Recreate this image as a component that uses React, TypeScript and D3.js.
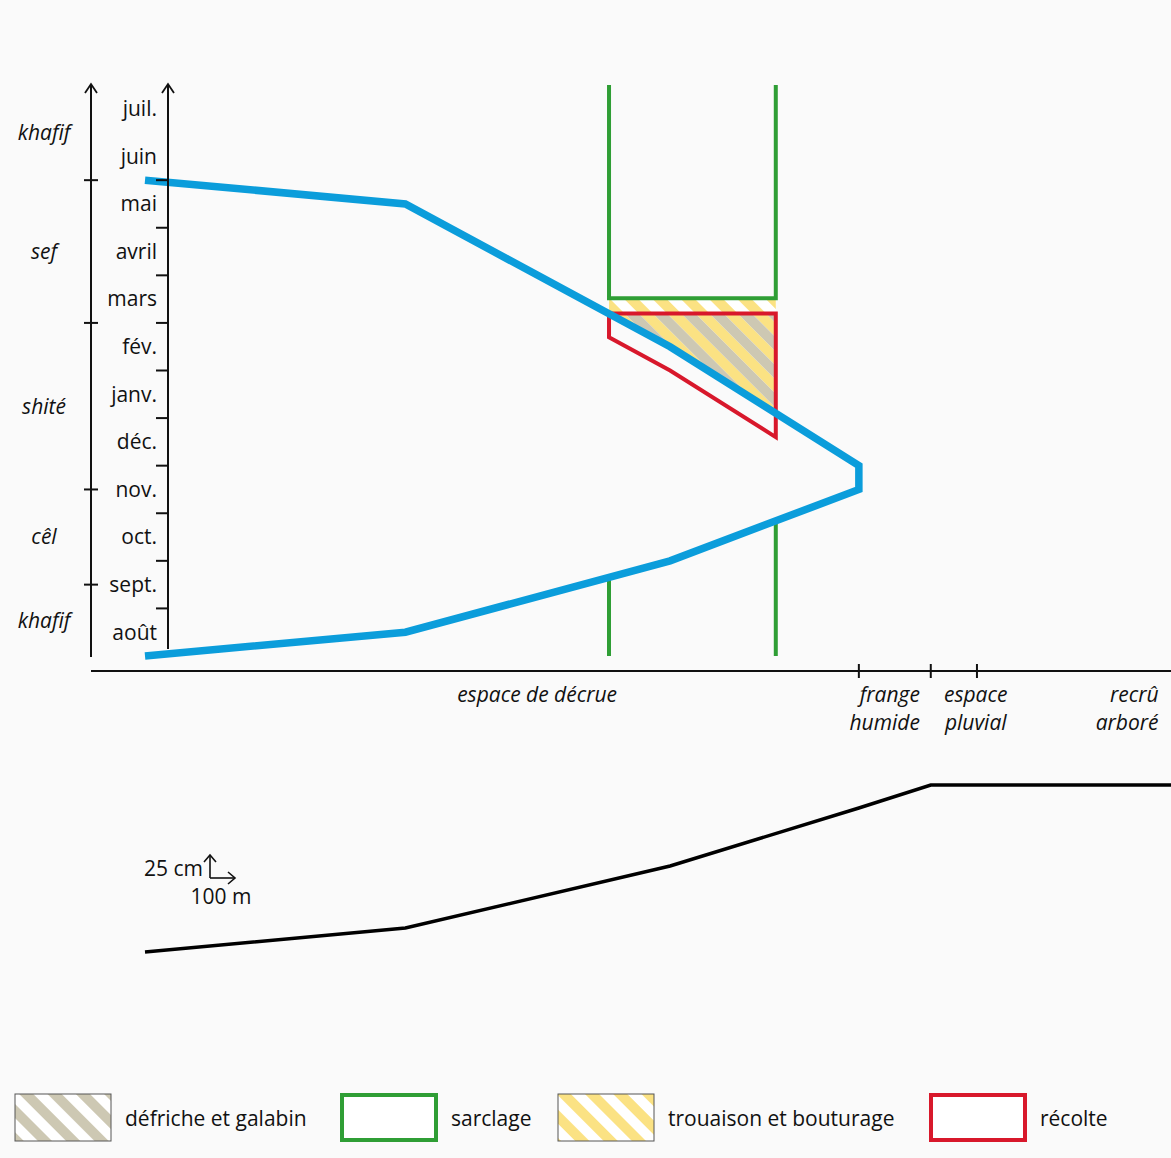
import React from "react";
import * as d3 from "d3";

// Months, bottom (t=0, août) to top (juil.)
const months = ["août", "sept.", "oct.", "nov.", "déc.", "janv.", "fév.", "mars", "avril", "mai", "juin", "juil."];
// Seasons: [start, end] in months since 1 Aug
const seasons = [
  { name: "khafif", start: 0, end: 1.5 },
  { name: "cêl", start: 1.5, end: 3.5 },
  { name: "shité", start: 3.5, end: 7 },
  { name: "sef", start: 7, end: 10 },
  { name: "khafif", start: 10, end: 12 },
];
const seasonTicks = [1.5, 3.5, 7, 10];

// Flood extent (distance in m, time in months since 1 Aug)
const floodDist = [0, 840, 1694, 2303, 2303, 1694, 840, 0];
const floodTime = [0, 0.5, 2.0, 3.5, 4.0, 6.5, 9.5, 10.0];

// Field plot limits (m)
const fieldLeft = 1497;
const fieldRight = 2035;
// sarclage top period
const sarclageTop = 12;
const sarclageBottom = 7.52;
// trouaison start & défriche start
const trouaisonTop = 7.48;
const defricheTop = 7.2;
// récolte polygon
const recolteDist = [1497, 2035, 2035, 1694, 1497];
const recolteTime = [7.2, 7.2, 4.6, 6.0, 6.7];

// Bottom x-axis zones
const zoneTicks = [2303, 2535, 2684];
const zoneLabels = [
  { lines: ["espace de décrue"], x: 1265, anchor: "middle" },
  { lines: ["frange", "humide"], x: 2500, anchor: "end" },
  { lines: ["espace", "pluvial"], x: 2680, anchor: "middle" },
  { lines: ["recrû", "arboré"], x: 3270, anchor: "end" },
];

// Elevation profile (m, cm)
const profileDist = [0, 840, 1694, 2303, 2535, 3310];
const profileElev = [0, 24, 86, 144, 167, 167];

const legendItems = [
  { label: "défriche et galabin", kind: "gray" },
  { label: "sarclage", kind: "green" },
  { label: "trouaison et bouturage", kind: "yellow" },
  { label: "récolte", kind: "red" },
];

const BLUE = "#0b9ddb";
const GREEN = "#2f9e35";
const RED = "#d8182b";
const YELLOW = "#fbe283";
const GRAY = "#cdc8b3";
const FONT = "'Open Sans', 'Noto Sans', sans-serif";

export default function App() {
  const W = 1171, H = 1158;
  const x = d3.scaleLinear().domain([0, 3310]).range([145, 1171]);
  const t = d3.scaleLinear().domain([0, 12]).range([656, 85]);
  const elev = d3.scaleLinear().domain([0, 200]).range([952, 752]);

  const floodPts: [number, number][] = floodDist.map((d, i) => [d, floodTime[i]]);
  const line = d3.line<[number, number]>().x((p) => x(p[0])).y((p) => t(p[1]));

  const receding = floodPts.slice(4).slice().sort((a, b) => a[0] - b[0]);
  const rising = floodPts.slice(0, 4);
  const interp = (pts: [number, number][], d: number) => {
    for (let i = 0; i < pts.length - 1; i++) {
      const [d0, t0] = pts[i], [d1, t1] = pts[i + 1];
      if (d >= Math.min(d0, d1) && d <= Math.max(d0, d1) && d0 !== d1) {
        return t0 + ((d - d0) / (d1 - d0)) * (t1 - t0);
      }
    }
    return 0;
  };
  const recedeBetween = (a: number, b: number): [number, number][] => {
    const pts: [number, number][] = [[b, interp(receding, b)]];
    receding.filter((p) => p[0] > a && p[0] < b).reverse().forEach((p) => pts.push(p));
    pts.push([a, interp(receding, a)]);
    return pts;
  };

  const yellowPoly: [number, number][] = [[fieldLeft, trouaisonTop], [fieldRight, trouaisonTop], ...recedeBetween(fieldLeft, fieldRight)];
  const grayPoly: [number, number][] = [[fieldLeft, defricheTop], [fieldRight, defricheTop], ...recedeBetween(fieldLeft, fieldRight)];
  const recoltePoly: [number, number][] = recolteDist.map((d, i) => [d, recolteTime[i]]);
  const closed = d3.line<[number, number]>().x((p) => x(p[0])).y((p) => t(p[1]));

  const greenLeftLow = interp(rising, fieldLeft);
  const greenRightLow = interp(rising, fieldRight);

  const profileLine = d3.line<number>().x((_, i) => x(profileDist[i])).y((v) => elev(v));

  const axisL = 91, axisR = 168, axisY = 671;
  const txt = { fontFamily: FONT, fontSize: 21, fill: "#111" } as const;

  const arrowHead = (cx: number, cy: number) => `M${cx - 6},${cy + 9}L${cx},${cy}L${cx + 6},${cy + 9}`;

  // scale marker origin
  const sx = 210, sy = 878;
  const sLen = 25;

  const legendX = [15, 341, 558, 930];
  const P = 20;
  return (
    <div style={{ position: "absolute", left: 0, top: 0 }}>
      <svg width={W} height={H} style={{ display: "block" }}>
        <defs>
          <pattern id="hatchGray" patternUnits="userSpaceOnUse" width={P} height={P} patternTransform="rotate(-45)">
            <rect x={0} y={0} width={P / 2} height={P} fill={GRAY} />
          </pattern>
          <pattern id="hatchYellow" patternUnits="userSpaceOnUse" width={P} height={P} patternTransform="rotate(-45)">
            <rect x={P / 2} y={0} width={P / 2} height={P} fill={YELLOW} />
          </pattern>
          <pattern id="hatchGrayL" patternUnits="userSpaceOnUse" width={P} height={P} patternTransform="rotate(-45)">
            <rect x={0} y={0} width={P / 2} height={P} fill={GRAY} />
          </pattern>
          <pattern id="hatchYellowL" patternUnits="userSpaceOnUse" width={P} height={P} patternTransform="rotate(-45)">
            <rect x={0} y={0} width={P / 2} height={P} fill={YELLOW} />
          </pattern>
        </defs>
        <rect x={0} y={0} width={W} height={H} fill="#fafafa" />

        {/* hatched areas */}
        <path d={closed(yellowPoly) + "Z"} fill="#fff" />
        <path d={closed(yellowPoly) + "Z"} fill="url(#hatchYellow)" />
        <path d={closed(grayPoly) + "Z"} fill="url(#hatchGray)" />

        {/* sarclage */}
        <path
          d={`M${x(fieldLeft)},${t(sarclageTop)}V${t(sarclageBottom)}H${x(fieldRight)}V${t(sarclageTop)}`}
          fill="none" stroke={GREEN} strokeWidth={4}
        />
        <line x1={x(fieldLeft)} x2={x(fieldLeft)} y1={t(0)} y2={t(greenLeftLow)} stroke={GREEN} strokeWidth={4} />
        <line x1={x(fieldRight)} x2={x(fieldRight)} y1={t(0)} y2={t(greenRightLow)} stroke={GREEN} strokeWidth={4} />

        {/* récolte */}
        <path d={closed(recoltePoly) + "Z"} fill="none" stroke={RED} strokeWidth={4} strokeLinejoin="miter" />

        {/* flood line */}
        <path d={line(floodPts) || ""} fill="none" stroke={BLUE} strokeWidth={7.5} strokeLinejoin="miter" />

        {/* left season axis */}
        <line x1={axisL} x2={axisL} y1={t(12) - 1} y2={t(0) + 1} stroke="#111" strokeWidth={2} />
        <path d={arrowHead(axisL, t(12) - 1)} fill="none" stroke="#111" strokeWidth={1.8} />
        {seasonTicks.map((s) => (
          <line key={s} x1={axisL - 7} x2={axisL + 7} y1={t(s)} y2={t(s)} stroke="#111" strokeWidth={2} />
        ))}
        {seasons.map((s, i) => (
          <text key={i} x={44} y={t((s.start + s.end) / 2)} dy="0.35em" textAnchor="middle" {...txt} fontStyle="italic">
            {s.name}
          </text>
        ))}

        {/* right month axis */}
        <line x1={axisR} x2={axisR} y1={t(12) - 1} y2={t(0) - 7} stroke="#111" strokeWidth={2} />
        <path d={arrowHead(axisR, t(12) - 1)} fill="none" stroke="#111" strokeWidth={1.8} />
        {d3.range(1, 11).map((m) => (
          <line key={m} x1={axisR - 12} x2={axisR} y1={t(m)} y2={t(m)} stroke="#111" strokeWidth={2} />
        ))}
        {months.map((m, i) => (
          <text key={m} x={157} y={t(i + 0.5)} dy="0.35em" textAnchor="end" {...txt}>
            {m}
          </text>
        ))}

        {/* bottom zone axis */}
        <line x1={axisL} x2={W} y1={axisY} y2={axisY} stroke="#111" strokeWidth={2} />
        {zoneTicks.map((z) => (
          <line key={z} x1={x(z)} x2={x(z)} y1={axisY - 7} y2={axisY + 7} stroke="#111" strokeWidth={2} />
        ))}
        {zoneLabels.map((z, i) => (
          <text key={i} x={x(z.x)} y={695} textAnchor={z.anchor as any} {...txt} fontStyle="italic">
            {z.lines.map((l, j) => (
              <tspan key={j} x={x(z.x)} y={695 + j * 28} dy="0.35em">{l}</tspan>
            ))}
          </text>
        ))}

        {/* profile */}
        <path d={profileLine(profileElev) || ""} fill="none" stroke="#000" strokeWidth={3.5} />

        {/* scale marker */}
        <g stroke="#111" strokeWidth={1.6} fill="none">
          <line x1={sx} x2={sx} y1={sy} y2={sy - 23} />
          <path d={`M${sx - 6},${sy - 16}L${sx},${sy - 23}L${sx + 6},${sy - 16}`} />
          <line x1={sx} x2={sx + sLen} y1={sy} y2={sy} />
          <path d={`M${sx + sLen - 7},${sy - 6}L${sx + sLen},${sy}L${sx + sLen - 7},${sy + 6}`} />
        </g>
        <text x={203} y={869} dy="0.35em" textAnchor="end" {...txt}>25 cm</text>
        <text x={221} y={897} dy="0.35em" textAnchor="middle" {...txt}>100 m</text>

        {/* legend */}
        {legendItems.map((it, i) => {
          const lx = legendX[i];
          const ly = 1094;
          return (
            <g key={it.label}>
              {it.kind === "gray" || it.kind === "yellow" ? (
                <>
                  <rect x={lx} y={ly} width={96} height={47} fill="#fff" />
                  <rect x={lx} y={ly} width={96} height={47} fill={it.kind === "gray" ? "url(#hatchGrayL)" : "url(#hatchYellowL)"} stroke="#555" strokeWidth={1} />
                </>
              ) : (
                <rect x={lx + 1} y={ly + 1} width={94} height={45} fill="#fff" stroke={it.kind === "green" ? GREEN : RED} strokeWidth={4} />
              )}
              <text x={lx + 110} y={ly + 25} dy="0.35em" {...txt}>{it.label}</text>
            </g>
          );
        })}
      </svg>
    </div>
  );
}
